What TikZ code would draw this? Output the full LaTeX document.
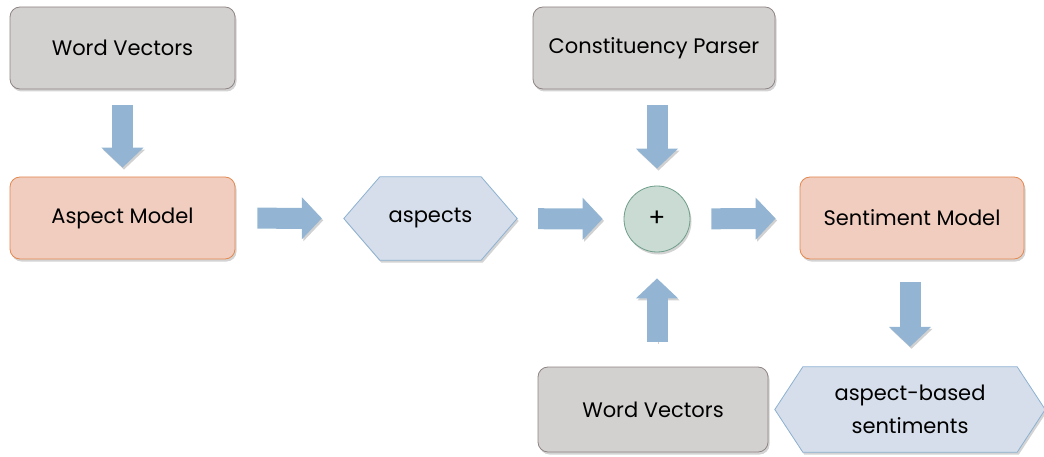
\documentclass[tikz,border=0pt]{standalone}
\usepackage{fontspec}
\setmainfont{Poppins}
\usetikzlibrary{shadows,arrows.meta,backgrounds}

\definecolor{boxgray}{HTML}{D3D1D0}
\definecolor{linegray}{HTML}{8E8483}
\definecolor{boxorange}{HTML}{F0CDBF}
\definecolor{lineorange}{HTML}{E4884F}
\definecolor{hexblue}{HTML}{D5DEEA}
\definecolor{linehex}{HTML}{8DB1D2}
\definecolor{plusfill}{HTML}{C9DBD3}
\definecolor{plusline}{HTML}{6F9E8A}
\definecolor{flowblue}{HTML}{93B5D3}

\begin{document}
\begin{tikzpicture}[x=1pt, y=-1pt,
                font=\fontsize{21}{33}\selectfont,
                input/.style={rectangle, draw=linegray, fill=boxgray, rounded corners=3.5mm, line width=0.8pt, minimum width=225pt, minimum height=82pt, text centered, drop shadow={shadow xshift=1.5pt, shadow yshift=-2.5pt, opacity=0.35}},
                model/.style={input, draw=lineorange, fill=boxorange},
                result/.style={rectangle, draw=none, inner sep=0pt, align=center},
                hexagon/.style={draw=linehex, fill=hexblue, line width=0.8pt, drop shadow={shadow xshift=1.5pt, shadow yshift=-2.5pt, opacity=0.35}},
                sumnode/.style={circle, draw=plusline, fill=plusfill, line width=0.8pt, minimum size=66pt, inner sep=0pt, font=\fontsize{25}{28}\selectfont, drop shadow={shadow xshift=1.5pt, shadow yshift=-2.5pt, opacity=0.35}},
                flow/.style={draw=flowblue, line width=21pt, -{Triangle[length=20pt, width=41pt]}, preaction={draw=black!18, transform canvas={shift={(1.5pt,-2pt)}}}}
            ]
            \useasboundingbox (0,0) rectangle (1044,457);
            % top row
            \node (Vectors01) [input] at (122.5,48) {Word Vectors};
            \node (Parser01) [input, minimum width=242pt] at (654,48) {Constituency Parser};
            % middle row
            \node (Model01) [model] at (122.5,218) {Aspect Model};
            \node (Hex01) [result, minimum width=173pt, minimum height=83pt] at (430.5,218.5) {aspects};
            \node (Plus) [sumnode] at (657,219) {+};
            \node (Model02) [model, minimum width=224pt] at (912,218) {Sentiment Model};
            % bottom row
            \node (Vectors02) [input, minimum width=230pt, minimum height=85pt] at (653,409.5) {Word Vectors};
            \node (Hex02) [result, minimum width=270pt, minimum height=85pt] at (910,409.5) {aspect-based\\sentiments};

            % hexagons behind the texts
            \begin{scope}[on background layer]
                \draw [hexagon] (Hex01.west) -- ([xshift=36pt]Hex01.north west) -- ([xshift=-36pt]Hex01.north east) -- (Hex01.east)
                    -- ([xshift=-36pt]Hex01.south east) -- ([xshift=36pt]Hex01.south west) -- cycle;
                \draw [hexagon] (Hex02.west) -- ([xshift=28pt]Hex02.north west) -- ([xshift=-28pt]Hex02.north east) -- (Hex02.east)
                    -- ([xshift=-28pt]Hex02.south east) -- ([xshift=28pt]Hex02.south west) -- cycle;
            \end{scope}

            \draw [flow, shorten <=16pt, shorten >=9pt] (Vectors01) -- (Model01);
            \draw [flow, shorten <=22pt, shorten >=22pt] (Model01) -- (Hex01);
            \draw [flow, shorten <=21pt, shorten >=21pt] (Hex01) -- (Plus);
            \draw [flow, shorten <=16pt, shorten >=17pt] (Parser01.south -| Plus) -- (Plus.north);
            \draw [flow, shorten <=25pt, shorten >=26pt] (Vectors02.north -| Plus) -- (Plus.south);
            \draw [flow, shorten <=21pt, shorten >=24pt] (Plus) -- (Model02);
            \draw [flow, shorten <=23pt, shorten >=20pt] (Model02.south -| Hex02) -- (Hex02.north);
\end{tikzpicture}
\end{document}
